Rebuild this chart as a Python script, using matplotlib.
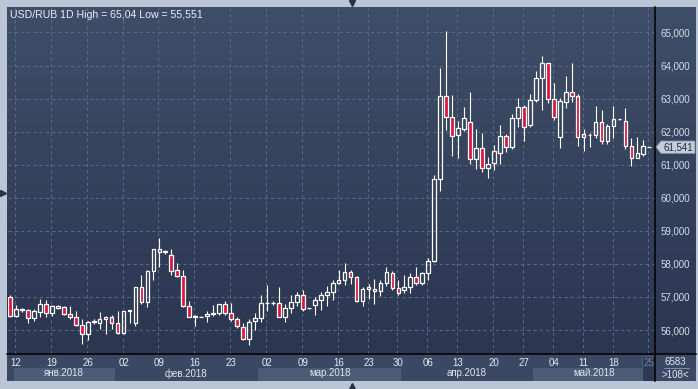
import numpy as np
import matplotlib
matplotlib.use("Agg")
import matplotlib.pyplot as plt
import matplotlib.patches as patches
from matplotlib.lines import Line2D
from matplotlib.ticker import FuncFormatter, FixedLocator

plt.rcParams['font.family'] = ['Liberation Sans', 'DejaVu Sans']

W, H = 698, 389

# USD/RUB daily candles, 12 Jan 2018 .. 25 May 2018 (108 bars)
opens = [57.00, 56.41, 56.61, 56.61, 56.35, 56.55, 56.79, 56.50, 56.73, 56.70,
         56.48, 56.39, 56.15, 55.88, 56.25, 56.20, 56.33, 56.39, 56.21, 55.90,
         56.57, 56.21, 57.30, 56.85, 57.79, 58.45, 58.36, 58.28, 57.82, 57.64,
         56.73, 56.40, 56.40, 56.41, 56.49, 56.50, 56.79, 56.51, 56.33, 56.10,
         55.73, 56.26, 56.36, 56.81, 56.81, 56.82, 56.38, 56.66, 56.85, 57.06,
         56.66, 56.77, 56.90, 57.06, 57.14, 57.41, 57.51, 57.76, 57.61, 56.88,
         57.24, 57.24, 57.18, 57.43, 57.73, 57.26, 57.21, 57.30, 57.61, 57.42,
         57.71, 58.08, 60.56, 63.08, 62.45, 61.91, 62.08, 62.30, 61.17, 61.52,
         60.89, 61.04, 61.34, 61.88, 61.55, 62.42, 62.75, 62.20, 62.95, 63.62,
         64.07, 62.99, 61.85, 62.90, 63.20, 63.08, 61.85, 61.89, 61.89, 62.30,
         61.73, 62.18, 62.37, 62.33, 61.58, 61.21, 61.33, 61.54]
highs = [57.05, 56.76, 56.68, 56.65, 56.64, 56.94, 56.92, 56.77, 56.76, 56.74,
         56.74, 56.57, 56.33, 56.28, 56.33, 56.53, 56.43, 56.45, 56.56, 56.56,
         56.62, 57.30, 57.66, 57.80, 58.45, 58.77, 58.43, 58.46, 58.04, 57.80,
         56.89, 56.46, 56.41, 56.57, 56.77, 56.80, 56.87, 56.83, 56.39, 56.22,
         56.33, 56.51, 57.07, 57.37, 56.87, 57.30, 56.80, 57.07, 57.16, 57.22,
         56.67, 56.99, 57.14, 57.34, 57.52, 57.83, 58.04, 57.83, 57.63, 57.29,
         57.40, 57.53, 57.52, 57.91, 57.78, 57.51, 57.65, 57.73, 57.91, 57.76,
         58.18, 60.69, 63.92, 65.04, 63.11, 62.33, 62.75, 63.21, 62.07, 61.97,
         61.23, 61.60, 62.19, 61.93, 62.52, 63.02, 62.82, 63.15, 63.82, 64.29,
         64.07, 63.47, 63.02, 63.69, 64.09, 63.15, 62.07, 61.97, 62.79, 62.65,
         62.24, 62.79, 62.38, 62.73, 61.80, 61.83, 61.74, 61.55]
lows = [56.40, 56.39, 56.55, 56.21, 56.26, 56.39, 56.38, 56.41, 56.64, 56.46,
        56.33, 56.11, 55.57, 55.71, 56.19, 56.04, 55.88, 56.04, 55.88, 55.87,
        56.21, 56.11, 56.80, 56.69, 57.51, 57.91, 58.31, 57.66, 57.60, 56.69,
        56.38, 56.13, 56.39, 56.23, 56.41, 56.46, 56.44, 56.28, 56.06, 55.71,
        55.551, 56.01, 56.23, 56.57, 56.75, 56.38, 56.23, 56.52, 56.72, 56.57,
        56.65, 56.46, 56.62, 56.74, 56.92, 57.39, 57.37, 57.39, 56.85, 56.72,
        56.94, 56.80, 57.02, 57.32, 57.22, 57.07, 57.12, 57.12, 57.37, 57.37,
        57.52, 58.05, 60.22, 62.04, 61.27, 61.21, 62.02, 61.01, 60.87, 60.77,
        60.59, 60.85, 61.02, 61.37, 61.47, 62.14, 61.72, 62.15, 62.89, 62.67,
        62.87, 62.35, 61.51, 62.71, 62.89, 61.57, 61.42, 61.54, 61.80, 61.63,
        61.63, 61.82, 62.36, 61.49, 60.95, 61.21, 61.27, 61.53]
closes = [56.43, 56.64, 56.64, 56.36, 56.56, 56.80, 56.52, 56.73, 56.67, 56.48,
          56.39, 56.15, 55.88, 56.24, 56.27, 56.33, 56.39, 56.21, 55.91, 56.56,
          56.59, 57.30, 56.85, 57.79, 58.45, 58.36, 58.38, 57.78, 57.63, 56.72,
          56.38, 56.41, 56.40, 56.47, 56.51, 56.79, 56.50, 56.33, 56.12, 55.73,
          56.25, 56.36, 56.82, 56.83, 56.82, 56.38, 56.67, 56.85, 57.06, 56.64,
          56.66, 56.91, 57.06, 57.16, 57.42, 57.52, 57.76, 57.60, 56.88, 57.24,
          57.30, 57.18, 57.43, 57.76, 57.26, 57.12, 57.30, 57.61, 57.42, 57.71,
          58.09, 60.56, 63.08, 62.45, 61.88, 62.12, 62.42, 61.17, 61.52, 60.89,
          61.01, 61.40, 61.88, 61.55, 62.42, 62.75, 62.15, 62.96, 63.62, 64.07,
          62.99, 62.45, 62.94, 63.20, 63.08, 61.85, 61.94, 61.91, 62.30, 61.73,
          62.18, 62.37, 62.37, 61.57, 61.21, 61.34, 61.58, 61.541]

day_pos = [1, 7, 13, 19, 25, 31, 37, 43, 49, 55, 60, 65, 70, 75, 81, 86, 91, 96, 101, 107]
day_labels = ["12", "19", "26", "02", "09", "16", "23", "02", "09", "16",
              "23", "30", "06", "13", "20", "27", "04", "11", "18", "25"]
month_edges = [0.6, 17.5, 41.5, 65.5, 87.5, 107.95]
month_labels = ["янв.2018", "фев.2018", "мар.2018", "апр.2018", "май.2018"]
price_ticks = [56, 57, 58, 59, 60, 61, 62, 63, 64, 65]
last_price = "61,541"


def fx(px):
    return px / W


def fy(py):
    return 1 - py / H


fig = plt.figure(figsize=(W / 100, H / 100), dpi=100, facecolor='#bac6d5')

# dark panel behind everything
fig.add_artist(patches.Rectangle((fx(7), fy(381)), fx(696) - fx(7), fy(7) - fy(381),
                                 transform=fig.transFigure, facecolor='#3a4863',
                                 edgecolor='none', zorder=0))

# gradient background (plot + price scale)
ax_bg = fig.add_axes([fx(7), fy(354), fx(696) - fx(7), fy(7) - fy(354)])
grad = np.linspace(0, 1, 256).reshape(-1, 1)
top_c = np.array([63, 78, 104]) / 255
bot_c = np.array([43, 54, 81]) / 255
img = top_c[None, None, :] * (1 - grad[:, :, None]) + bot_c[None, None, :] * grad[:, :, None]
ax_bg.imshow(img, aspect='auto', extent=[0, 1, 0, 1])
ax_bg.axis('off')

ax = fig.add_axes([fx(8), fy(354), fx(655) - fx(8), fy(7.5) - fy(354)])
ax.patch.set_alpha(0)
ax.set_xlim(-0.335, 107.95)
ax.set_ylim(55.274, 65.756)
for s in ax.spines.values():
    s.set_visible(False)

grid_kw = dict(color='#5b6986', lw=0.75, linestyle=(0, (3, 3)), zorder=1)
for p in price_ticks:
    ax.axhline(p, **grid_kw)
for d in day_pos:
    ax.axvline(d - 0.15, **grid_kw)

o = np.array(opens)
c = np.array(closes)
hi = np.array(highs)
lo = np.array(lows)
idx = np.arange(len(o))
top = np.maximum(o, c)
bot = np.minimum(o, c)
hgt = np.maximum(top - bot, 0.004)
up = c >= o

ax.vlines(idx, top, hi, color='white', lw=0.8, zorder=3)
ax.vlines(idx, lo, bot, color='white', lw=0.8, zorder=3)
ax.bar(idx[up], hgt[up], bottom=bot[up], width=0.62, facecolor='none',
       edgecolor='white', linewidth=0.9, zorder=4)
ax.bar(idx[~up], hgt[~up], bottom=bot[~up], width=0.62, facecolor='#dc163c',
       edgecolor='white', linewidth=0.9, zorder=4)

ax.xaxis.set_visible(False)
ax.yaxis.tick_right()
ax.yaxis.set_major_locator(FixedLocator(price_ticks))
ax.yaxis.set_major_formatter(FuncFormatter(lambda v, p: f"{v:.3f}".replace('.', ',')))
ax.tick_params(axis='y', length=0, pad=4, labelsize=7, labelcolor='#d3deec')

# bottom date / month rows
ax_b = fig.add_axes([fx(8), fy(381), fx(655) - fx(8), fy(354) - fy(381)], sharex=ax)
ax_b.patch.set_alpha(0)
ax_b.set_ylim(0, 1)
ax_b.axis('off')
for k, lab in enumerate(month_labels):
    a, b = month_edges[k], month_edges[k + 1]
    if k % 2 == 0:
        ax_b.add_patch(patches.Rectangle((a, 0), b - a, 0.48, facecolor='#4c5c77',
                                         edgecolor='none'))
    ax_b.text((a + b) / 2, 0.285, lab, ha='center', va='center', fontsize=7,
              color='#dfe7f1')
ax_b.add_patch(patches.Rectangle((105.8, 0), 2.2, 0.93, facecolor='#2e3a53',
                                 edgecolor='#55637d', lw=0.6))
for d, lab in zip(day_pos, day_labels):
    col = '#6f7f99' if lab == day_labels[-1] else '#e3eaf3'
    ax_b.text(d, 0.67, lab, ha='center', va='center', fontsize=7, color=col)

# frame lines
fig.add_artist(Line2D([fx(655), fx(655)], [fy(7), fy(381)], color='black', lw=1.1))
fig.add_artist(Line2D([fx(7), fx(696)], [fy(354), fy(354)], color='black', lw=1.1))

# bars count box
fig.text(fx(675), fy(362), "6583", ha='center', va='center', fontsize=7, color='#dfe7f1')
fig.add_artist(Line2D([fx(664), fx(689)], [fy(368), fy(368)], color='#8c99ae', lw=0.6))
fig.text(fx(675), fy(374.5), ">108<", ha='center', va='center', fontsize=7, color='#dfe7f1')

# last price tag
tag = patches.Polygon([(fx(656), fy(147)), (fx(661), fy(141)), (fx(695), fy(141)),
                       (fx(695), fy(153.5)), (fx(661), fy(153.5))],
                      closed=True, transform=fig.transFigure, facecolor='#c3ccd8',
                      edgecolor='#7f8ba0', lw=0.6, zorder=5)
fig.add_artist(tag)
fig.text(fx(663), fy(147.3), last_price, ha='left', va='center', fontsize=7,
         color='#1d2940', zorder=6)

# title
fig.text(fx(10), fy(15), "USD/RUB 1D High = 65,04 Low = 55,551", ha='left',
         va='center', fontsize=7.6, color='#e9eff6')

# scroll markers in the frame
for (x, y, m) in [(352, 3, 'v'), (352, 385.5, '^'), (3.2, 193, '>')]:
    fig.add_artist(Line2D([fx(x)], [fy(y)], marker=m, markersize=4.5,
                          color='#26324a', lw=0))

fig.savefig("out.png", dpi=100, facecolor=fig.get_facecolor())
